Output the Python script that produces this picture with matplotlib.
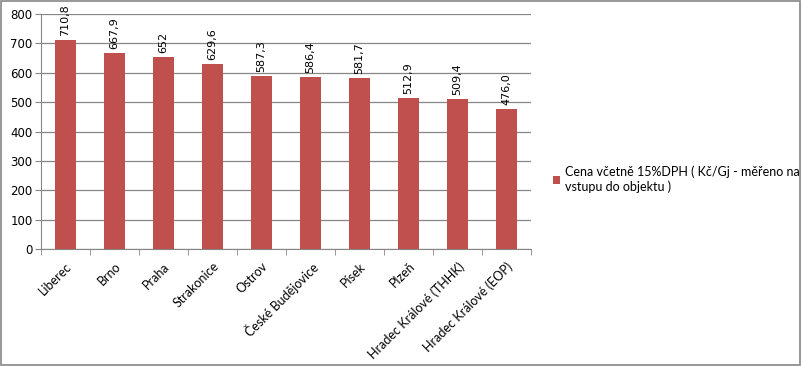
import matplotlib.pyplot as plt
from matplotlib.patches import Rectangle

plt.rcParams["font.family"] = ["Lato", "DejaVu Sans"]

cities = ["Liberec", "Brno", "Praha", "Strakonice", "Ostrov", "České Budějovice",
          "Písek", "Plzeň", "Hradec Králové (THHK)", "Hradec Králové (EOP)"]
prices = [710.8, 667.9, 652, 629.6, 587.3, 586.4, 581.7, 512.9, 509.4, 476.0]
value_labels = ["710,8", "667,9", "652", "629,6", "587,3", "586,4", "581,7", "512,9", "509,4", "476,0"]
series_name = "Cena včetně 15%DPH ( Kč/Gj - měřeno na\nvstupu do objektu )"

bar_color = "#C0504D"
grid_color = "#868686"

fig = plt.figure(figsize=(8.02, 3.66), dpi=100)
fig.patches.append(Rectangle((0.001, 0.002), 0.997, 0.995, transform=fig.transFigure,
                             fill=False, edgecolor=grid_color, linewidth=1.2))
ax = fig.add_axes([0.0511, 0.3197, 0.611, 0.642])

x = list(range(len(cities)))
bars = ax.bar(x, prices, width=0.41, color=bar_color, zorder=3, label=series_name)

# value labels sit a little above each bar, rotated like Excel's
for xi, v, lab in zip(x, prices, value_labels):
    ax.text(xi, v + 14, lab, rotation=90, ha="center", va="bottom", fontsize=8,
            family="DejaVu Sans", zorder=4)

ax.set_xlim(-0.5, len(cities) - 0.5)
ax.set_ylim(0, 800)
ax.set_yticks(range(0, 801, 100))
ax.yaxis.grid(True, color=grid_color, linewidth=0.9, zorder=0)
ax.tick_params(axis="y", length=4, color=grid_color, labelsize=8.5, pad=2)
for t in ax.get_yticklabels():
    t.set_family("DejaVu Sans")

ax.set_xticks(x)
ax.set_xticklabels(cities, rotation=45, ha="right", rotation_mode="anchor", fontsize=9)
ax.tick_params(axis="x", length=0, pad=8)
ax.set_xticks([i - 0.5 for i in range(len(cities) + 1)], minor=True)
ax.tick_params(axis="x", which="minor", length=4, color=grid_color)

for side in ["top", "right"]:
    ax.spines[side].set_visible(False)
ax.spines["left"].set_color(grid_color)
ax.spines["bottom"].set_color(grid_color)

fig.legend(handles=[bars], labels=[series_name], loc="center left",
           bbox_to_anchor=(0.675, 0.51), frameon=False, fontsize=9,
           handlelength=0.6, handleheight=0.6, handletextpad=0.4)

fig.savefig("out.png", dpi=100)
